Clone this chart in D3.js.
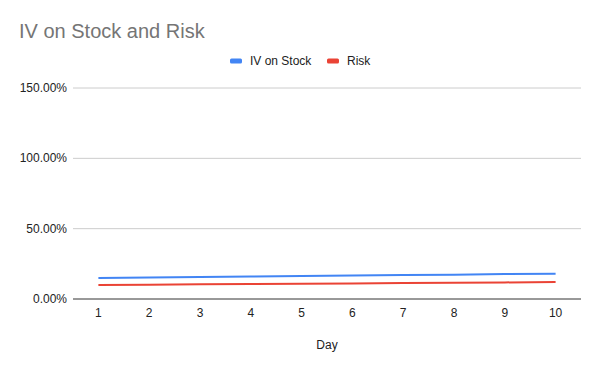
<!DOCTYPE html>
<html>
<head>
<meta charset="utf-8">
<script src="https://cdn.jsdelivr.net/npm/d3@7"></script>
<style>
  body { margin: 0; background: #fff; }
  text { font-family: "Liberation Sans", Arial, sans-serif; }
</style>
</head>
<body>
<script>
// data
const days = [1, 2, 3, 4, 5, 6, 7, 8, 9, 10];
const ivOnStock = [15, 15.3, 15.7, 16, 16.3, 16.7, 17, 17.3, 17.7, 18];
const risk = [10, 10.2, 10.4, 10.7, 10.9, 11.1, 11.3, 11.6, 11.8, 12];
const yTicks = [0, 50, 100, 150];

const w = 600, h = 371;
const margin = { left: 73, right: 19, top: 88, bottom: 72 };

const svg = d3.select("body").append("svg")
  .attr("width", w)
  .attr("height", h);

const x = d3.scalePoint()
  .domain(days)
  .range([margin.left, w - margin.right])
  .padding(0.5);

const y = d3.scaleLinear()
  .domain([0, 150])
  .range([h - margin.bottom, margin.top]);

// title
svg.append("text")
  .attr("x", 19).attr("y", 38)
  .attr("font-size", 20)
  .attr("fill", "#757575")
  .text("IV on Stock and Risk");

// gridlines
svg.selectAll(".grid")
  .data(yTicks.filter(d => d > 0)).enter()
  .append("line")
  .attr("x1", margin.left).attr("x2", w - margin.right)
  .attr("y1", d => y(d)).attr("y2", d => y(d))
  .attr("stroke", "#cccccc").attr("stroke-width", 1);

// y labels
svg.selectAll(".ylab")
  .data(yTicks).enter()
  .append("text")
  .attr("x", 67)
  .attr("y", d => y(d) + 4)
  .attr("text-anchor", "end")
  .attr("font-size", 12)
  .attr("fill", "#222")
  .text(d => d3.format(".2f")(d) + "%");

// x axis baseline
svg.append("line")
  .attr("x1", margin.left).attr("x2", w - margin.right)
  .attr("y1", y(0)).attr("y2", y(0))
  .attr("stroke", "#333").attr("stroke-width", 1);

svg.selectAll(".xlab")
  .data(days).enter()
  .append("text")
  .attr("x", d => x(d))
  .attr("y", y(0) + 18)
  .attr("text-anchor", "middle")
  .attr("font-size", 12)
  .attr("fill", "#222")
  .text(d => d);

svg.append("text")
  .attr("x", (margin.left + w - margin.right) / 2)
  .attr("y", 349)
  .attr("text-anchor", "middle")
  .attr("font-size", 12)
  .attr("fill", "#222")
  .text("Day");

// lines
const series = [
  { name: "IV on Stock", values: ivOnStock, color: "#4285f4" },
  { name: "Risk", values: risk, color: "#ea4335" }
];

const line = d3.line()
  .x((d, i) => x(days[i]))
  .y(d => y(d));

svg.selectAll(".series")
  .data(series).enter()
  .append("path")
  .attr("d", d => line(d.values))
  .attr("fill", "none")
  .attr("stroke", d => d.color)
  .attr("stroke-width", 2);

// legend
const legendX = [230, 327];
const legend = svg.selectAll(".legend")
  .data(series).enter()
  .append("g")
  .attr("transform", (d, i) => `translate(${legendX[i]},61)`);

legend.append("rect")
  .attr("x", 0).attr("y", -2.5)
  .attr("width", 12).attr("height", 5)
  .attr("rx", 1.5)
  .attr("fill", d => d.color);

legend.append("text")
  .attr("x", 20).attr("y", 4)
  .attr("font-size", 12)
  .attr("fill", "#222")
  .text(d => d.name);
</script>
</body>
</html>
